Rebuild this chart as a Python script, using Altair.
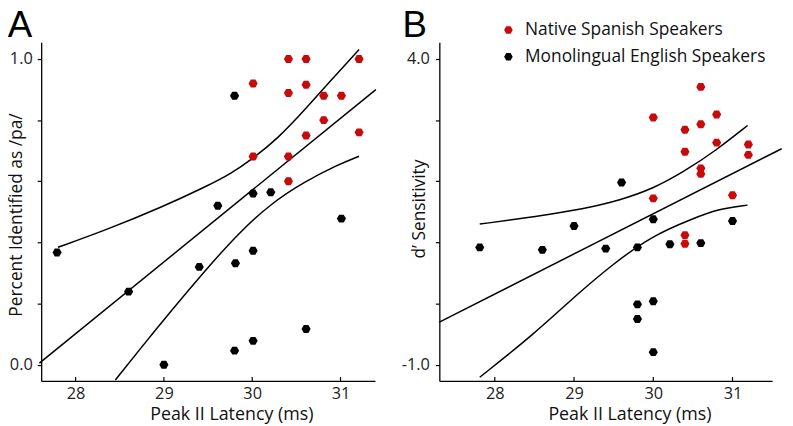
import altair as alt
import pandas as pd

# ---------------- data ----------------
groups = ["Native Spanish Speakers", "Monolingual English Speakers"]

# Panel A: Percent identified as /pa/
a_red_x = [30.41, 30.61, 31.21, 30.01, 30.41, 30.61, 30.81, 31.01, 30.81, 30.61, 31.21, 30.01, 30.41, 30.41]
a_red_y = [1.0, 1.0, 1.0, 0.92, 0.889, 0.916, 0.88, 0.88, 0.80, 0.75, 0.76, 0.681, 0.681, 0.60]
a_blk_x = [29.80, 29.61, 30.01, 30.21, 31.01, 27.79, 28.60, 29.40, 29.81, 30.01, 29.00, 29.80, 30.01, 30.61]
a_blk_y = [0.88, 0.52, 0.56, 0.564, 0.478, 0.367, 0.239, 0.32, 0.332, 0.373, 0.0, 0.046, 0.078, 0.117]

a_fit_x = [27.59, 31.40]
a_fit_y = [0.005, 0.90]
a_up_x = [27.80, 28.34, 28.98, 29.47, 29.76, 30.01, 30.29, 30.59, 30.89, 31.21]
a_up_y = [0.384, 0.44, 0.516, 0.582, 0.625, 0.675, 0.740, 0.832, 0.930, 1.031]
a_lo_x = [28.45, 28.72, 29.09, 29.47, 29.84, 30.21, 30.59, 30.96, 31.21]
a_lo_y = [-0.05, 0.048, 0.179, 0.309, 0.429, 0.527, 0.598, 0.653, 0.682]

# Panel B: d' sensitivity
b_red_x = [30.60, 30.0, 30.40, 30.60, 30.80, 30.80, 31.20, 31.20, 30.40, 30.60, 30.60, 30.0, 31.0, 30.40, 30.40]
b_red_y = [3.54, 3.04, 2.84, 2.93, 3.09, 2.63, 2.60, 2.43, 2.48, 2.21, 2.12, 1.72, 1.77, 1.12, 0.98]
b_blk_x = [29.60, 30.0, 31.0, 29.0, 27.81, 28.60, 29.40, 29.80, 30.21, 30.60, 29.80, 30.0, 29.80, 30.0]
b_blk_y = [1.98, 1.38, 1.35, 1.27, 0.92, 0.88, 0.90, 0.92, 0.97, 0.99, -0.01, 0.04, -0.25, -0.79]

b_fit_x = [27.30, 31.62]
b_fit_y = [-0.30, 2.53]
b_up_x = [27.81, 28.50, 29.13, 29.58, 30.0, 30.38, 30.79, 31.19]
b_up_y = [1.30, 1.42, 1.55, 1.69, 1.88, 2.15, 2.50, 2.91]
b_lo_x = [27.81, 28.50, 29.0, 29.50, 30.0, 30.50, 30.83, 31.19]
b_lo_y = [-1.20, -0.49, 0.11, 0.66, 1.12, 1.39, 1.55, 1.61]

x_ticks = [28, 29, 30, 31]
a_y_ticks = [0.0, 0.2, 0.4, 0.6, 0.8, 1.0]
b_y_ticks = [-1, 0, 1, 2, 3, 4]

RED = "#c70a0a"
HEX = "M-1,0L-0.5,-0.866L0.5,-0.866L1,0L0.5,0.866L-0.5,0.866Z"
FONT = "Open Sans"
H = 342


def pts_df(rx, ry, bx, by):
    return pd.DataFrame({
        "x": bx + rx,
        "y": by + ry,
        "group": [groups[1]] * len(bx) + [groups[0]] * len(rx),
    })


def lines_df(fx, fy, ux, uy, lx, ly):
    return pd.DataFrame({
        "x": fx + ux + lx,
        "y": fy + uy + ly,
        "band": ["fit"] * len(fx) + ["upper"] * len(ux) + ["lower"] * len(lx),
    })


def panel(letter, letter_x, pts, lines, xdom, ydom, yticks, ylabel_expr, ytitle,
          ytitle_x, ytitle_y, ylabel_pad, width, height, legend):
    xs = alt.Scale(domain=xdom, nice=False, zero=False)
    ys = alt.Scale(domain=ydom, nice=False, zero=False)
    xaxis = alt.Axis(values=x_ticks, format="d", ticks=False, tickSize=0,
                     labelPadding=5, title="Peak II Latency (ms)", titleX=192,
                     titleY=39, titleBaseline="alphabetic", titleAlign="center",
                     titleFontSize=18)
    yaxis = alt.Axis(values=yticks, labelExpr=ylabel_expr, tickSize=4,
                     labelPadding=ylabel_pad, title=ytitle, titleX=ytitle_x,
                     titleY=ytitle_y, titleAngle=270, titleAlign="center",
                     titleBaseline="alphabetic", titleFontSize=17.5)

    line_layer = alt.Chart(lines).mark_line(
        color="black", strokeWidth=1.5, interpolate="basis", clip=False
    ).encode(
        x=alt.X("x:Q", scale=xs, axis=xaxis),
        y=alt.Y("y:Q", scale=ys, axis=yaxis),
        detail="band:N",
    )

    color = alt.Color(
        "group:N",
        scale=alt.Scale(domain=groups, range=[RED, "black"]),
        legend=legend,
    )
    pt_layer = alt.Chart(pts).mark_point(
        shape=HEX, filled=True, size=85, opacity=1, strokeWidth=0
    ).encode(x="x:Q", y="y:Q", color=color)

    tick_layer = alt.Chart(pd.DataFrame({"t": x_ticks})).mark_rule(
        color="black", strokeWidth=1.2
    ).encode(x="t:Q", y=alt.value(height), y2=alt.value(height - 4))

    letter_layer = alt.Chart(pd.DataFrame({"label": [letter]})).mark_text(
        font="Liberation Sans", fontSize=37, align="left",
        baseline="alphabetic", color="black"
    ).encode(text="label:N", x=alt.value(letter_x), y=alt.value(-5.7))

    return alt.layer(line_layer, pt_layer, tick_layer, letter_layer).properties(
        width=width, height=height
    )


legend_b = alt.Legend(
    title=None, orient="none", legendX=61, legendY=-21, symbolType=HEX,
    symbolSize=75, symbolStrokeWidth=0, labelFontSize=17.5, labelFont=FONT,
    labelColor="#111", labelOffset=8, labelLimit=0, rowPadding=8, padding=0,
)

chart_a = panel(
    "A", -33.7, pts_df(a_red_x, a_red_y, a_blk_x, a_blk_y),
    lines_df(a_fit_x, a_fit_y, a_up_x, a_up_y, a_lo_x, a_lo_y),
    [27.61, 31.39], [-0.053, 1.055], a_y_ticks,
    "datum.value == 1 ? '1.0' : datum.value == 0 ? '0.0' : ''",
    "Percent Identified as /pa/", -20, H / 2 + 3, 5, 337, H, None,
)
chart_b = panel(
    "B", -37.3, pts_df(b_red_x, b_red_y, b_blk_x, b_blk_y),
    lines_df(b_fit_x, b_fit_y, b_up_x, b_up_y, b_lo_x, b_lo_y),
    [27.30, 31.50], [-1.26, 4.27], b_y_ticks,
    "datum.value == 4 ? '4.0' : datum.value == -1 ? '-1.0' : ''",
    "d\u2019 Sensitivity", -15, H / 2 - 3, 6, 336, H, legend_b,
)

chart = alt.hconcat(chart_a, chart_b, spacing=22).resolve_scale(
    color="independent"
).resolve_legend(color="independent").properties(
    padding={"top": -3.5, "left": -1.5, "right": 0, "bottom": 0}
).configure_view(stroke=None).configure_axis(
    grid=False, domainColor="black", domainWidth=1.3, tickColor="black",
    tickWidth=1.2, labelFont=FONT, labelFontSize=16.5, labelColor="#222",
    titleFont=FONT, titleFontWeight="normal", titleColor="#111",
)

chart.save("out.html", embed_options={"renderer": "svg", "actions": False})
